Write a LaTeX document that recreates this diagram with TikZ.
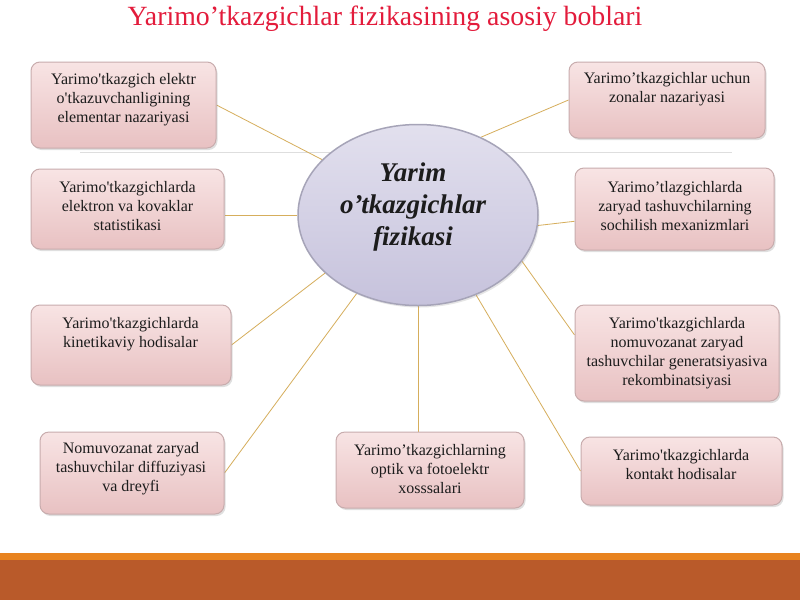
\documentclass[tikz,border=0pt]{standalone}
\usepackage{fontspec}
\setmainfont{Liberation Serif}[Ligatures=TeXOff]
\usetikzlibrary{shapes.geometric,shadows}
\definecolor{titlered}{HTML}{E31B3B}
\definecolor{txtcol}{HTML}{1C1C1C}
\definecolor{pinktop}{HTML}{F8E4E4}
\definecolor{pinkbot}{HTML}{E8C1C2}
\definecolor{pinkedge}{HTML}{C8ACAD}
\definecolor{elltop}{HTML}{E2E0EE}
\definecolor{ellmid}{HTML}{F4F3F9}
\definecolor{ellbot}{HTML}{C6C2DC}
\definecolor{elledge}{HTML}{A6A4B8}
\definecolor{conncol}{HTML}{D6AE5C}
\definecolor{faintcol}{HTML}{DEDEDE}
\definecolor{barorange}{HTML}{E8831F}
\definecolor{barrust}{HTML}{B95A2A}
\pgfdeclarelayer{back}
\pgfdeclarelayer{bg}
\pgfsetlayers{back,bg,main}
\begin{document}
\begin{tikzpicture}[x=1pt,y=-1pt,
  boxst/.style={draw=pinkedge, line width=1pt, rounded corners=9pt,
    top color=pinktop, bottom color=pinkbot,
    drop shadow={shadow xshift=1.5pt, shadow yshift=-2pt, opacity=0.25, fill=gray},
    inner sep=0pt},
  txt/.style={align=center, text=txtcol, inner sep=0pt,
    font=\fontsize{16}{19}\selectfont},
  conn/.style={draw=conncol, line width=0.8pt},
  ellst/.style={ellipse, draw=elledge, line width=1.5pt,
    top color=elltop, middle color=ellmid, bottom color=ellbot,
    minimum width=240pt, minimum height=181pt, inner sep=0pt,
    drop shadow={shadow xshift=1.5pt, shadow yshift=-2pt, opacity=0.2, fill=gray}},
  centtxt/.style={align=center, text=txtcol, inner sep=0pt,
    font=\fontsize{27}{32}\selectfont\bfseries\itshape},
  titlest/.style={text=titlered, inner sep=0pt, font=\fontsize{27.8}{32}\selectfont}
]
\begin{pgfonlayer}{back}
\fill[white] (0,0) rectangle (800,600);
\fill[barorange] (0,553) rectangle (800,560);
\fill[barrust] (0,560) rectangle (800,600);
\end{pgfonlayer}

\node[titlest] (title) at (385,19) {Yarimo’tkazgichlar fizikasining asosiy boblari};

\node[ellst] (ell) at (418,215) {};
\node[centtxt] (ct) at (413,207) {Yarim\\o’tkazgichlar\\fizikasi};

\node[boxst, minimum width=185pt, minimum height=86pt] (b1) at (123.5,105) {};
\node[txt] (t1) at (123.5,100) {Yarimo'tkazgich elektr\\o'tkazuvchanligining\\elementar nazariyasi};

\node[boxst, minimum width=193pt, minimum height=80pt] (b2) at (127.5,209) {};
\node[txt] (t2) at (127.5,206) {Yarimo'tkazgichlarda\\elektron va kovaklar\\statistikasi};

\node[boxst, minimum width=200pt, minimum height=80pt] (b3) at (131,345) {};
\node[txt] (t3) at (130.5,334) {Yarimo'tkazgichlarda\\kinetikaviy hodisalar};

\node[boxst, minimum width=184pt, minimum height=82pt] (b4) at (132,473) {};
\node[txt] (t4) at (131,469) {Nomuvozanat zaryad\\tashuvchilar diffuziyasi\\va dreyfi};

\node[boxst, minimum width=188pt, minimum height=76pt] (b5) at (430,470) {};
\node[txt] (t5) at (430,469) {Yarimo’tkazgichlarning\\optik va fotoelektr\\xosssalari};

\node[boxst, minimum width=196pt, minimum height=76pt] (b6) at (667,100) {};
\node[txt] (t6) at (667,89.5) {Yarimo’tkazgichlar uchun\\zonalar nazariyasi};

\node[boxst, minimum width=199pt, minimum height=82pt] (b7) at (674.5,209) {};
\node[txt] (t7) at (675,206) {Yarimo’tlazgichlarda\\zaryad tashuvchilarning\\sochilish mexanizmlari};

\node[boxst, minimum width=204pt, minimum height=96pt] (b8) at (677,353) {};
\node[txt] (t8) at (677,353.5) {Yarimo'tkazgichlarda\\nomuvozanat zaryad\\tashuvchilar generatsiyasiva\\rekombinatsiyasi};

\node[boxst, minimum width=201pt, minimum height=68pt] (b9) at (681.5,471) {};
\node[txt] (t9) at (681,464.5) {Yarimo'tkazgichlarda\\kontakt hodisalar};

\begin{pgfonlayer}{bg}
\draw[faintcol, line width=1pt] (80,152) -- (732,152);
\draw[conn] (b1.east) -- (ell.150);
\draw[conn] (ell.west) -- (ell.west -| b2.east);
\draw[conn] (b3.east) -- (ell.212);
\draw[conn] (b4.east) -- (ell.232);
\draw[conn] (ell.south) -- (b5.north -| ell.south);
\draw[conn] (ell.51) -- (b6.west);
\draw[conn] (ell.355) -- (b7.187);
\draw[conn] (ell.336) -- (b8.170);
\draw[conn] (ell.306) -- (b9.west);
\end{pgfonlayer}
\end{tikzpicture}
\end{document}
